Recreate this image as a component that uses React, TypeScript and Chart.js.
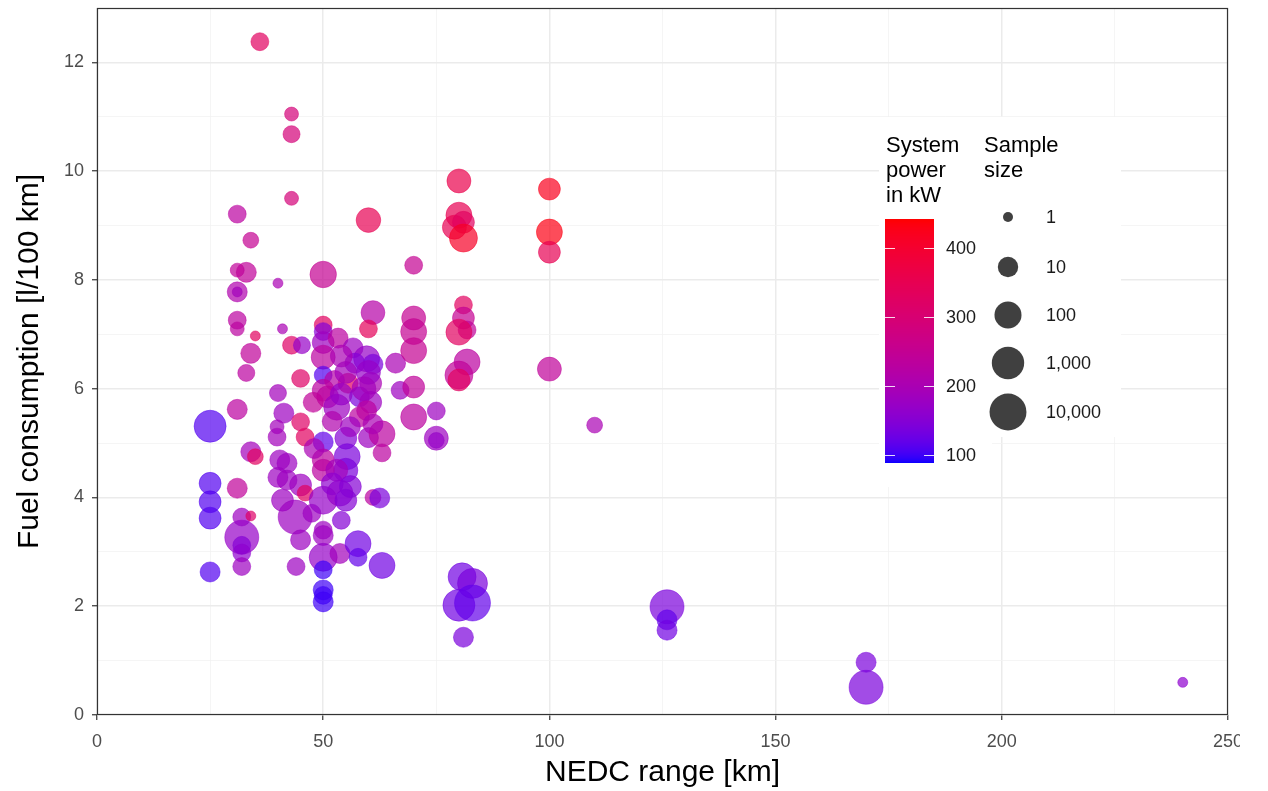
import React, { useEffect, useRef } from "react";
import { Chart, registerables } from "chart.js";

Chart.register(...registerables);

// ---- Data ----
const rangeKm = [
  36, 43, 43, 43, 31, 60, 34, 31, 33, 40, 50, 70, 31, 31, 31, 31, 35, 41, 34, 43,
  45.3, 33, 50, 50, 50, 53.3, 61, 60, 56.6, 59.6, 61, 57, 50, 50, 55.5, 52.5, 50, 51, 58, 60.5,
  60.5, 66, 67, 70, 70, 70, 70, 70, 40, 45, 47.8, 41.3, 53, 59.6, 31, 25, 45, 46, 39.8, 39.8,
  50, 55, 55.3, 55, 50, 50, 53, 58, 60, 63, 63, 40.4, 42, 40, 42, 45, 46, 41, 43.8, 47.5,
  50, 53.7, 55, 61, 62.5, 54, 50, 45, 50, 50, 53.7, 57.7, 57.7, 63, 44, 50, 50, 50, 50, 34,
  35, 25, 25, 25, 31, 32, 34, 32, 32, 32, 32, 25, 80, 80, 79, 81, 81, 100, 100, 100,
  81, 81, 81.8, 80, 81.8, 80, 80, 100, 110, 75, 75, 75, 80.7, 83, 80, 83, 81, 126, 126, 126,
  170, 170, 240, 54, 55, 54, 52, 56, 60, 59, 61, 48, 52, 56,
];
const fuelL100 = [
  12.38, 11.05, 10.68, 9.5, 9.21, 9.1, 8.73, 8.18, 8.14, 7.94, 8.1, 8.27, 7.78, 7.78, 7.26, 7.1, 6.97, 7.1, 6.65, 6.8,
  6.8, 6.29, 7.17, 7.05, 6.85, 6.93, 7.4, 7.1, 6.75, 6.55, 6.45, 6.47, 6.58, 6.25, 6.1, 6.15, 5.97, 5.85, 5.85, 6.1,
  5.75, 6.47, 5.97, 6.03, 7.3, 7.05, 6.7, 5.48, 5.92, 6.19, 5.75, 5.55, 5.66, 5.6, 5.62, 5.31, 5.39, 5.11, 5.11, 5.3,
  5.02, 5.09, 4.75, 4.5, 4.69, 4.5, 4.5, 5.48, 5.1, 5.17, 4.82, 4.69, 4.63, 4.37, 4.32, 4.23, 4.08, 3.95, 3.64, 3.71,
  3.95, 4.08, 3.95, 4.0, 3.99, 3.58, 3.4, 3.22, 3.3, 2.9, 2.97, 3.15, 2.9, 2.75, 2.73, 2.67, 2.3, 2.2, 2.08, 4.84,
  4.75, 4.26, 3.92, 3.62, 4.17, 3.64, 3.66, 3.27, 3.12, 2.98, 2.73, 2.63, 9.82, 9.19, 8.97, 9.06, 8.77, 9.67, 8.88, 8.51,
  7.54, 7.3, 7.08, 7.04, 6.49, 6.25, 6.16, 6.36, 5.33, 5.59, 5.09, 5.05, 2.54, 2.42, 2.02, 2.06, 1.43, 1.99, 1.75, 1.56,
  0.97, 0.51, 0.6, 6.6, 6.3, 5.9, 5.4, 5.3, 6.3, 6.0, 5.35, 4.9, 4.25, 4.2,
];
const powerKw = [
  330, 290, 290, 290, 230, 350, 250, 240, 240, 200, 250, 250, 210, 190, 230, 230, 330, 200, 240, 320,
  170, 230, 330, 150, 180, 230, 220, 340, 180, 170, 140, 150, 230, 110, 330, 220, 230, 230, 140, 200,
  180, 200, 180, 240, 250, 250, 250, 230, 190, 320, 240, 180, 180, 230, 230, 110, 320, 330, 190, 190,
  120, 150, 140, 140, 230, 230, 190, 230, 180, 230, 230, 180, 180, 180, 180, 180, 330, 180, 180, 180,
  170, 170, 150, 230, 140, 150, 180, 180, 180, 170, 190, 130, 120, 130, 180, 100, 100, 100, 100, 190,
  330, 110, 110, 110, 240, 180, 320, 170, 150, 160, 180, 110, 360, 350, 350, 330, 410, 420, 430, 350,
  330, 250, 240, 330, 230, 240, 330, 240, 200, 180, 180, 170, 130, 140, 130, 120, 140, 140, 120, 130,
  140, 140, 160, 200, 190, 170, 210, 180, 170, 190, 200, 200, 160, 150,
];
const sampleSize = [
  5, 2, 4, 2, 5, 40, 3, 2, 9, 1, 80, 5, 9, 1, 5, 2, 1, 1, 9, 5,
  4, 4, 5, 5, 16, 9, 30, 5, 9, 66, 9, 9, 32, 5, 9, 9, 16, 16, 9, 16,
  16, 9, 5, 16, 32, 66, 66, 66, 4, 5, 9, 9, 66, 9, 9, 840, 5, 5, 5, 2,
  9, 16, 66, 32, 16, 16, 16, 9, 9, 66, 5, 9, 9, 9, 9, 16, 3, 16, 2200, 5,
  146, 66, 16, 3, 9, 5, 5, 9, 9, 146, 9, 66, 5, 66, 5, 5, 9, 5, 9, 9,
  3, 16, 16, 16, 9, 5, 1, 2200, 5, 5, 5, 9, 32, 66, 32, 16, 146, 16, 66, 16,
  5, 16, 5, 66, 66, 146, 16, 32, 3, 5, 32, 3, 146, 340, 840, 6000, 9, 2200, 9, 9,
  9, 2200, 1, 16, 16, 16, 9, 9, 32, 32, 9, 9, 16, 16,
];

const xTickValues = [0, 50, 100, 150, 200, 250];
const yTickValues = [0, 2, 4, 6, 8, 10, 12];
const powerBreaks = [100, 200, 300, 400];
const sizeBreaks = [1, 10, 100, 1000, 10000];
const sizeBreakLabels = ["1", "10", "100", "1,000", "10,000"];
const POWER_MIN = 88;
const POWER_MAX = 442;

const FONT = "'Liberation Sans', Arial, sans-serif";

// ---- colour scale: blue -> red interpolated in CIE Lab (like ggplot) ----
function lin(c: number) {
  c /= 255;
  return c <= 0.04045 ? c / 12.92 : Math.pow((c + 0.055) / 1.055, 2.4);
}
function toLab(r: number, g: number, b: number) {
  const R = lin(r), G = lin(g), B = lin(b);
  const X = (0.4124 * R + 0.3576 * G + 0.1805 * B) / 0.95047;
  const Y = 0.2126 * R + 0.7152 * G + 0.0722 * B;
  const Z = (0.0193 * R + 0.1192 * G + 0.9505 * B) / 1.08883;
  const f = (t: number) => (t > 0.008856 ? Math.cbrt(t) : 7.787 * t + 16 / 116);
  const fx = f(X), fy = f(Y), fz = f(Z);
  return [116 * fy - 16, 500 * (fx - fy), 200 * (fy - fz)];
}
function fromLab(L: number, a: number, b: number) {
  const fy = (L + 16) / 116, fx = fy + a / 500, fz = fy - b / 200;
  const inv = (t: number) => (t * t * t > 0.008856 ? t * t * t : (t - 16 / 116) / 7.787);
  const X = inv(fx) * 0.95047, Y = inv(fy), Z = inv(fz) * 1.08883;
  const R = 3.2406 * X - 1.5372 * Y - 0.4986 * Z;
  const G = -0.9689 * X + 1.8758 * Y + 0.0415 * Z;
  const B = 0.0557 * X - 0.204 * Y + 1.057 * Z;
  const g = (c: number) => {
    const v = c <= 0.0031308 ? 12.92 * c : 1.055 * Math.pow(c, 1 / 2.4) - 0.055;
    return Math.round(Math.min(1, Math.max(0, v)) * 255);
  };
  return [g(R), g(G), g(B)];
}
const LAB_LOW = toLab(0, 0, 255);
const LAB_HIGH = toLab(255, 0, 0);
function powerColour(p: number, alpha = 1) {
  const t = Math.min(1, Math.max(0, (p - POWER_MIN) / (POWER_MAX - POWER_MIN)));
  const [r, g, b] = fromLab(
    LAB_LOW[0] + (LAB_HIGH[0] - LAB_LOW[0]) * t,
    LAB_LOW[1] + (LAB_HIGH[1] - LAB_LOW[1]) * t,
    LAB_LOW[2] + (LAB_HIGH[2] - LAB_LOW[2]) * t
  );
  return `rgba(${r},${g},${b},${alpha})`;
}
function sizeRadius(n: number) {
  return Math.sqrt(25 + 79 * Math.log10(n));
}

// ---- legend + panel border plugin ----
const legendPlugin = {
  id: "ggLegend",
  afterDatasetsDraw(chart: any) {
    const { ctx, chartArea } = chart;
    ctx.save();
    // panel border
    ctx.strokeStyle = "#333333";
    ctx.lineWidth = 1.2;
    ctx.strokeRect(chartArea.left + 0.5, chartArea.top + 0.5, chartArea.right - chartArea.left - 1, chartArea.bottom - chartArea.top - 1);

    // legend backgrounds
    ctx.fillStyle = "#ffffff";
    ctx.fillRect(879, 117, 113, 370);
    ctx.fillRect(975, 117, 146, 320);

    // titles
    ctx.fillStyle = "#000000";
    ctx.font = `22px ${FONT}`;
    ctx.textAlign = "left";
    ctx.textBaseline = "middle";
    ["System", "power", "in kW"].forEach((t, i) => ctx.fillText(t, 886, 146 + i * 25));
    ["Sample", "size"].forEach((t, i) => ctx.fillText(t, 984, 146 + i * 25));

    // colour bar
    const barL = 885, barR = 934, barTop = 219, barBot = 463;
    const pxPerKw = 69 / 100;
    const yOf = (v: number) => 455 - (v - 100) * pxPerKw;
    for (let y = barTop; y < barBot; y++) {
      const v = 100 + (455 - (y + 0.5)) / pxPerKw;
      ctx.fillStyle = powerColour(v, 1);
      ctx.fillRect(barL, y, barR - barL, 1);
    }
    ctx.strokeStyle = "rgba(255,255,255,0.85)";
    ctx.lineWidth = 1;
    ctx.font = `18px ${FONT}`;
    powerBreaks.forEach((v) => {
      const y = Math.round(yOf(v)) + 0.5;
      ctx.beginPath();
      ctx.moveTo(barL, y);
      ctx.lineTo(barL + 10, y);
      ctx.moveTo(barR - 10, y);
      ctx.lineTo(barR, y);
      ctx.stroke();
      ctx.fillStyle = "#1a1a1a";
      ctx.fillText(String(v), 946, y + 1);
    });

    // size legend
    const sizeY = [217, 267, 315, 363, 412];
    sizeBreaks.forEach((n, i) => {
      ctx.beginPath();
      ctx.arc(1008, sizeY[i], sizeRadius(n), 0, Math.PI * 2);
      ctx.fillStyle = "rgba(30,30,30,0.85)";
      ctx.fill();
      ctx.fillStyle = "#1a1a1a";
      ctx.fillText(sizeBreakLabels[i], 1046, sizeY[i] + 1);
    });
    ctx.restore();
  },
};

export default function App() {
  const ref = useRef<HTMLCanvasElement | null>(null);
  useEffect(() => {
    document.body.style.margin = "0";
    const canvas = ref.current!;
    const points = rangeKm.map((x, i) => ({ x, y: fuelL100[i], r: sizeRadius(sampleSize[i]) }));
    const chart = new Chart(canvas, {
      type: "bubble",
      data: {
        datasets: [
          {
            data: points,
            backgroundColor: (c: any) => powerColour(powerKw[c.dataIndex] ?? 200, 0.7),
            borderColor: (c: any) => powerColour(powerKw[c.dataIndex] ?? 200, 0.8),
            borderWidth: 0.6,
          },
        ],
      },
      options: {
        responsive: false,
        animation: false,
        devicePixelRatio: 1,
        layout: { autoPadding: false, padding: { top: 8, right: 40, left: 0, bottom: 0 } },
        plugins: { legend: { display: false }, tooltip: { enabled: false } },
        scales: {
          x: {
            type: "linear",
            min: 0,
            max: 250,
            afterFit: (s: any) => {
              s.height = 76;
              s.paddingLeft = 0;
              s.paddingRight = 0;
            },
            afterBuildTicks: (s: any) => {
              const t = [];
              for (let v = 0; v <= 250; v += 25) t.push({ value: v });
              s.ticks = t;
            },
            ticks: {
              autoSkip: false,
              maxRotation: 0,
              padding: 11,
              color: "#4D4D4D",
              font: { family: FONT, size: 18 },
              callback: (v: any) => (xTickValues.includes(Number(v)) ? String(v) : ""),
            },
            grid: {
              color: (c: any) => (c.tick && c.tick.value % 50 === 0 ? "#EBEBEB" : "#F3F3F3"),
              lineWidth: (c: any) => (c.tick && c.tick.value % 50 === 0 ? 1.5 : 0.8),
              tickColor: (c: any) => (c.tick && c.tick.value % 50 === 0 ? "#333333" : "rgba(0,0,0,0)"),
              tickLength: 5,
              tickWidth: 1.2,
            },
            border: { display: false },
            title: {
              display: true,
              text: "NEDC range [km]",
              color: "#000000",
              font: { family: FONT, size: 30 },
              padding: { top: 0, bottom: 0 },
            },
          },
          y: {
            type: "linear",
            min: 0,
            max: 13,
            afterFit: (s: any) => {
              s.width = 97;
              s.paddingTop = 0;
              s.paddingBottom = 0;
            },
            afterBuildTicks: (s: any) => {
              const t = [];
              for (let v = 0; v <= 13; v += 1) t.push({ value: v });
              s.ticks = t;
            },
            ticks: {
              autoSkip: false,
              padding: 8,
              color: "#4D4D4D",
              font: { family: FONT, size: 18 },
              callback: (v: any) => (yTickValues.includes(Number(v)) ? String(v) : ""),
            },
            grid: {
              color: (c: any) => (c.tick && c.tick.value % 2 === 0 ? "#EBEBEB" : "#F3F3F3"),
              lineWidth: (c: any) => (c.tick && c.tick.value % 2 === 0 ? 1.5 : 0.8),
              tickColor: (c: any) => (c.tick && c.tick.value % 2 === 0 ? "#333333" : "rgba(0,0,0,0)"),
              tickLength: 5,
              tickWidth: 1.2,
            },
            border: { display: false },
            title: {
              display: true,
              text: "Fuel consumption [l/100 km]",
              color: "#000000",
              font: { family: FONT, size: 30 },
              padding: { top: 12, bottom: 0 },
            },
          },
        },
      },
      plugins: [legendPlugin],
    } as any);
    return () => chart.destroy();
  }, []);

  return (
    <div
      style={{
        position: "fixed",
        left: 0,
        top: 0,
        width: 1240,
        height: 791,
        overflow: "hidden",
        background: "#ffffff",
      }}
    >
      <canvas ref={ref} width={1268} height={791} style={{ width: 1268, height: 791, display: "block" }} />
    </div>
  );
}
